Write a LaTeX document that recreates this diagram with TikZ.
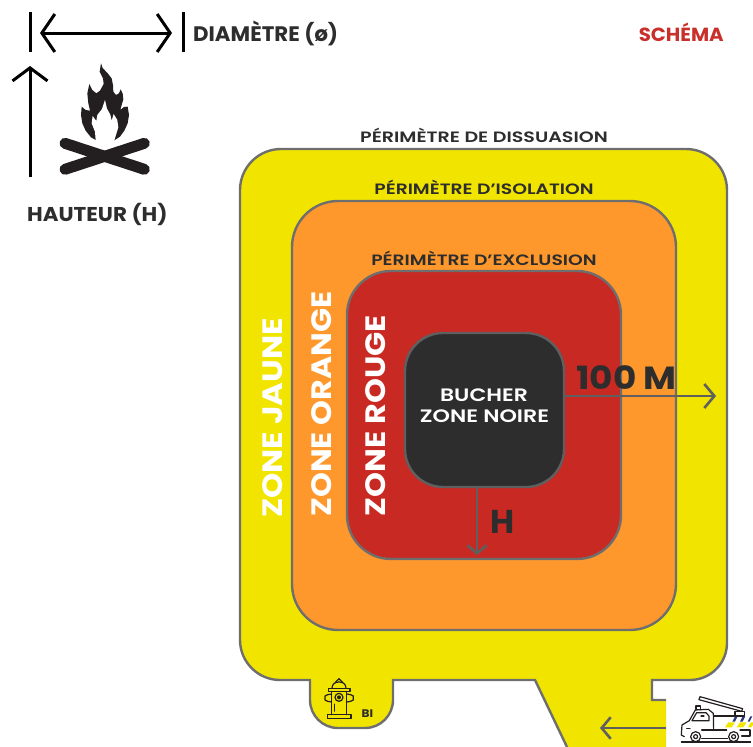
\documentclass[tikz,border=0pt]{standalone}
\usepackage{fontspec}
\usepackage{graphicx}
\setmainfont{Poppins}[BoldFont={Poppins SemiBold}]
\newfontfamily\heavy{Poppins}
\usetikzlibrary{arrows.meta,calc}
\definecolor{ink}{HTML}{2D2D2D}
\definecolor{pureink}{HTML}{231F20}
\definecolor{edge}{HTML}{6E6E6E}
\definecolor{arrowgrey}{HTML}{5F5F5F}
\definecolor{zyellow}{HTML}{F1E500}
\definecolor{zorange}{HTML}{FE982C}
\definecolor{zred}{HTML}{C92923}
\definecolor{schemared}{HTML}{C9302C}
\definecolor{truckblue}{HTML}{2B3A7A}
\newcommand{\sx}[2]{\scalebox{#1}[1]{#2}}
\tikzset{
  zonebox/.style={draw=edge,line width=2.4pt,rounded corners=#1,inner sep=0pt},
  lab/.style={font=\bfseries\fontsize{#1}{#1}\selectfont,text=ink,inner sep=0pt},
  hvlab/.style={font=\heavy\bfseries\fontsize{#1}{#1}\selectfont,text=ink,inner sep=0pt},
  ziplab/.style={font=\heavy\bfseries\fontsize{#1}{#1}\selectfont,text=white,inner sep=0pt,rotate=90},
  dimline/.style={draw=black,line width=3pt},
  greyarrow/.style={draw=arrowgrey,line width=2.6pt,-{Straight Barb[length=#1,width=2.4*#1,line width=2.6pt]}},
  iconline/.style={draw=pureink,line width=1.2pt,line join=round,line cap=round},
}
\begin{document}
\begin{tikzpicture}[x=1pt,y=-1pt]
\useasboundingbox (0,0) rectangle (753,747);
% outer yellow zone
\fill[zyellow] (666,747) -- (666,700) -- (652,700) -- (652,680) -- (690,680)
  .. controls (710.4,680) and (727,663.4) .. (727,643) -- (727,190)
  .. controls (727,167.4) and (708.6,149) .. (686,149) -- (281,149)
  .. controls (258.4,149) and (240,167.4) .. (240,190) -- (240,640)
  .. controls (240,662) and (258,680) .. (280,680) -- (310,680) -- (310,700)
  .. controls (310,715.5) and (322.5,728) .. (338,728) -- (365,728)
  .. controls (380.5,728) and (393,715.5) .. (393,700) -- (393,680) -- (535,680) -- (567,747) -- cycle;
\draw[edge,line width=2.4pt,line join=miter] (666,700) -- (652,700) -- (652,680) -- (690,680)
  .. controls (710.4,680) and (727,663.4) .. (727,643) -- (727,190)
  .. controls (727,167.4) and (708.6,149) .. (686,149) -- (281,149)
  .. controls (258.4,149) and (240,167.4) .. (240,190) -- (240,640)
  .. controls (240,662) and (258,680) .. (280,680) -- (310,680) -- (310,700)
  .. controls (310,715.5) and (322.5,728) .. (338,728) -- (365,728)
  .. controls (380.5,728) and (393,715.5) .. (393,700) -- (393,680) -- (535,680) -- (567,747);
% nested zones
\node[zonebox=46pt,fill=zorange,minimum width=384pt,minimum height=429pt] (orange) at (484,415.5) {};
\node[zonebox=44pt,fill=zred,minimum width=274pt,minimum height=288pt] (red) at (484,415) {};
\node[zonebox=38pt,fill=ink,draw=arrowgrey,minimum width=159pt,minimum height=154pt] (fire) at (484.5,410) {};
% perimeter labels
\node[lab=15] (pdis) at (484,135) {\sx{1.27}{PÉRIMÈTRE DE DISSUASION}};
\node[lab=15] (piso) at (484,187) {\sx{1.25}{PÉRIMÈTRE D’ISOLATION}};
\node[lab=15] (pexc) at (484,258) {\sx{1.25}{PÉRIMÈTRE D’EXCLUSION}};
% zone labels
\node[ziplab=28] (zj) at (272.5,418) {\sx{1.15}{ZONE JAUNE}};
\node[ziplab=28] (zo) at (321.5,404) {\sx{1.13}{ZONE ORANGE}};
\node[ziplab=28] (zr) at (375.5,415.5) {\sx{1.135}{ZONE ROUGE}};
\node[lab=18,text=white,align=center] (bl1) at (484,395) {\sx{1.22}{BUCHER}};
\node[lab=18,text=white,align=center] (bl2) at (484.5,416.5) {\sx{1.23}{ZONE NOIRE}};
% distance connectors
\coordinate (r100) at (716,396);
\coordinate (rh) at (477,555);
\draw[greyarrow=10pt] (fire.east |- r100) -- (r100);
\draw[greyarrow=8pt] (fire.south -| rh) -- (rh);
\node[hvlab=32,anchor=west] (m100) at (576,378) {\sx{1.12}{100 M}};
\node[hvlab=33] (hlab) at (502.5,522) {H};
% truck access arrow
\coordinate (acs) at (666,728);
\coordinate (ace) at (600,728);
\draw[greyarrow=9pt] (acs) -- (ace);
% legend
\coordinate (d1) at (40,33);
\coordinate (d2) at (172,33);
\coordinate (h1) at (30,177);
\coordinate (h2) at (30,66);
\draw[dimline] (30,12) -- (30,52);
\draw[dimline] (183,12) -- (183,52);
\draw[draw=black,line width=3pt,{Straight Barb[length=13pt,width=38pt,line width=3pt]}-{Straight Barb[length=13pt,width=38pt,line width=3pt]}] (d1) -- (d2);
\draw[draw=black,line width=3pt,-{Straight Barb[length=13pt,width=35pt,line width=3pt]}] (h1) -- (h2);
\node[hvlab=21,anchor=west] (ldia) at (193,33) {\sx{1.015}{DIAMÈTRE (ø)}};
\node[hvlab=19,anchor=east,text=schemared] (lsch) at (724,32) {\sx{1.04}{SCHÉMA}};
\node[hvlab=20,anchor=west] (lhau) at (27,214) {\sx{1.07}{HAUTEUR (H)}};
% fire icon
\begin{scope}[shift={(55,60)},x=0.3333pt,y=-0.3333pt]
  \fill[pureink] (138,10) -- (143,24) -- (158,40) -- (170,55) -- (174,75) -- (175,95) -- (183,105) -- (192,100) -- (197,88) -- (203,100) -- (205,118) -- (200,135) -- (196,150) -- (207,141) -- (218,140) -- (222,165) -- (218,190) -- (208,212) -- (195,230) -- (178,241) -- (124,241) -- (108,232) -- (92,212) -- (82,190) -- (78,165) -- (80,140) -- (92,150) -- (105,152) -- (100,130) -- (97,100) -- (103,72) -- (112,90) -- (124,100) -- (135,92) -- (146,72) -- (144,55) -- (134,35) -- cycle;
  \fill[white] (150,120) -- (156,146) -- (166,164) -- (170,182) -- (176,162) -- (187,180) -- (190,202) -- (178,241) -- (150,262) -- (122,241) -- (120,215) -- (110,190) -- (113,168) -- (124,183) -- (127,165) -- (141,147) -- cycle;
  \draw[pureink,line width=11pt,line cap=round] (30,250) -- (268,328);
  \draw[pureink,line width=11pt,line cap=round] (268,250) -- (30,328);
\end{scope}
% hydrant icon
\begin{scope}[shift={(290,620)},x=0.3333pt,y=-0.3333pt]
  \draw[iconline] (112,284) rectangle (183,296);
  \draw[iconline] (125,284) -- (125,215);
  \draw[iconline] (170,284) -- (170,215);
  \draw[iconline] (115,205) rectangle (180,214);
  \draw[iconline] (126,205) .. controls (126,192) and (135,186) .. (147,186) .. controls (159,186) and (168,192) .. (168,205);
  \draw[iconline] (136,187) -- (147,176) -- (158,187);
  \draw[iconline] (125,222) -- (113,224) -- (105,228) -- (105,240) -- (113,244) -- (125,246);
  \draw[iconline] (170,222) -- (182,224) -- (190,228) -- (190,240) -- (182,244) -- (170,246);
  \draw[iconline] (147,232) circle[radius=12];
  \fill[pureink] (147,232) circle[radius=6];
  \draw[iconline,line width=0.8pt] (134,252) -- (134,274);
\end{scope}
\node[hvlab=11,anchor=west] (bi) at (361.5,713.5) {\sx{1.1}{BI}};
% truck icon
\begin{scope}[shift={(520,630)},x=0.3333pt,y=-0.3333pt]
  \fill[zyellow] (615,292) -- (625,277) -- (645,277) -- (635,292) -- cycle;
  \fill[zyellow] (650,292) -- (660,277) -- (680,277) -- (670,292) -- cycle;
  \fill[zyellow] (684,292) -- (692,277) -- (699,277) -- (699,285) -- (694,292) -- cycle;
  \fill[truckblue] (637,275) -- (645,259) -- (653,259) -- (645,275) -- cycle;
  \fill[truckblue] (660,275) -- (668,259) -- (676,259) -- (668,275) -- cycle;
  \fill[truckblue] (683,275) -- (691,259) -- (697,259) -- (689,275) -- cycle;
  \draw[iconline] (540,200) -- (668,236) -- (665,244) -- (537,209) -- cycle;
  \draw[iconline] (645,244) rectangle (673,258);
  \draw[iconline] (645,258) -- (581,258);
  \draw[iconline] (528,238) rectangle (541,228);
  \draw[iconline] (493,320) -- (484,315) -- (486,285) -- (508,272) -- (526,240) -- (565,238) -- (580,250) -- (581,300);
  \draw[iconline] (516,272) -- (530,248) -- (558,248) -- (567,258) -- (567,272) -- cycle;
  \draw[iconline] (543,258) -- (552,258);
  \draw[iconline] (545,300) -- (620,300);
  \draw[iconline] (660,300) -- (690,300) -- (690,318) -- (665,318);
  \draw[iconline] (500,296) -- (510,296);
  \draw[iconline] (545,325) -- (623,325);
  \draw[iconline] (527,320) circle[radius=15];
  \draw[iconline] (527,320) circle[radius=6];
  \draw[iconline] (641,320) circle[radius=15];
  \draw[iconline] (641,320) circle[radius=6];
  \draw[pureink,line width=1.8pt] (483,336) -- (692,336);
\end{scope}
\end{tikzpicture}
\end{document}
